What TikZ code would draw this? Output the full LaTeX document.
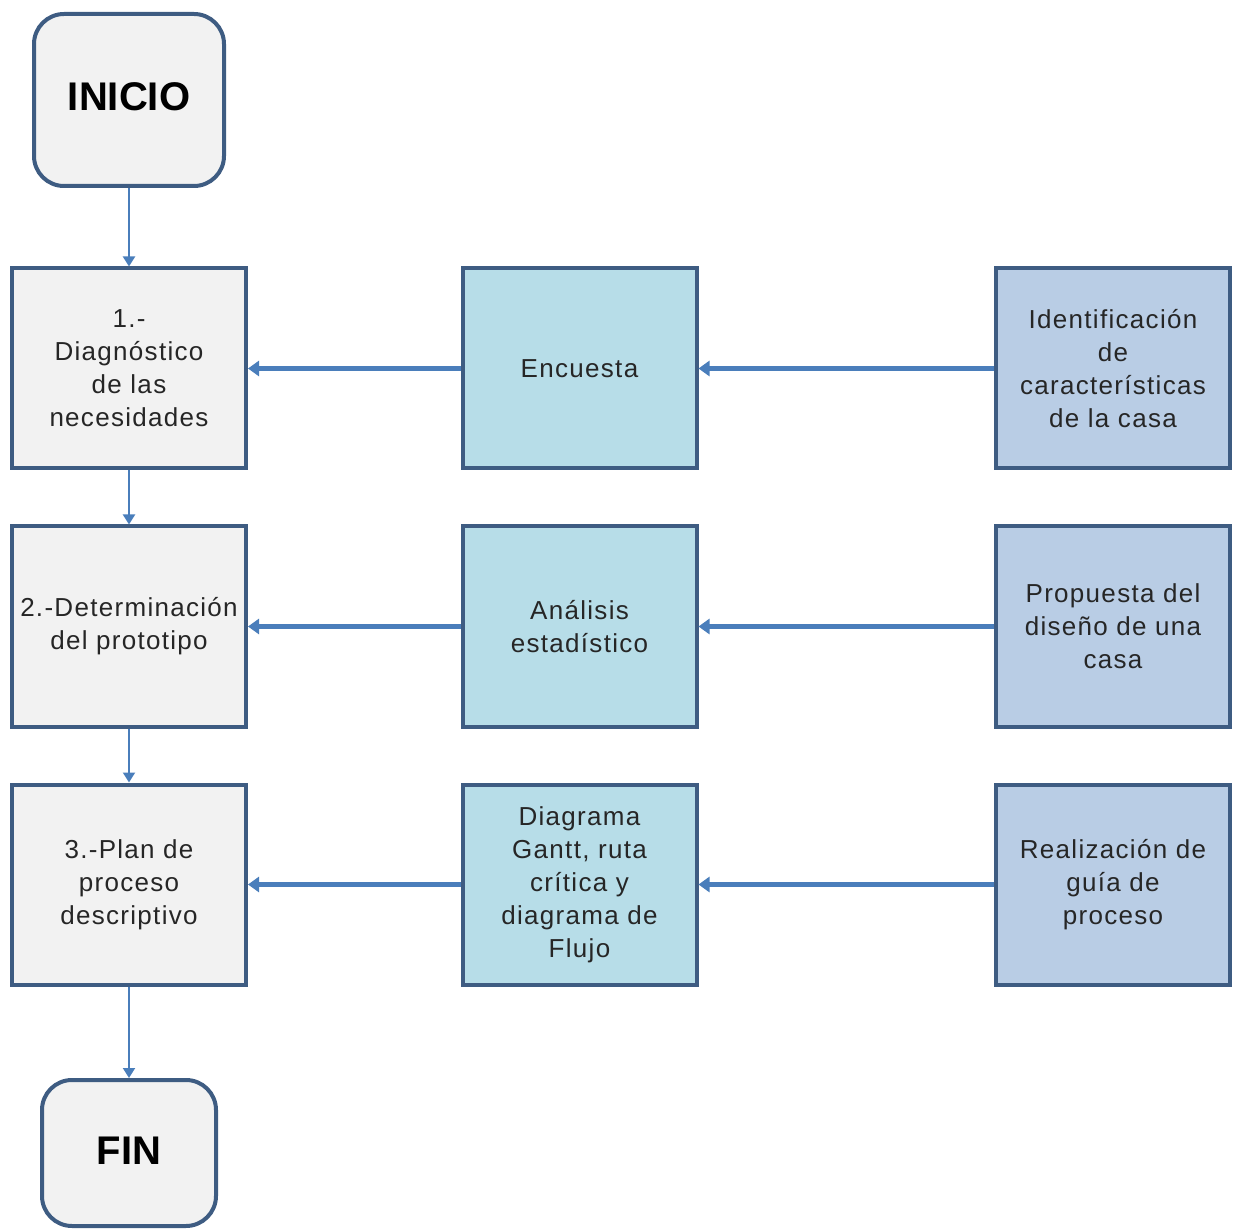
\documentclass[tikz,border=0pt]{standalone}
\usepackage{fontspec}
\setmainfont{Liberation Sans}[LetterSpace=5]
\newfontfamily\boldsans{Liberation Sans}[BoldFont={Liberation Sans Bold}]
\usetikzlibrary{arrows.meta}
\definecolor{bordc}{HTML}{3E5C82}
\definecolor{arrc}{HTML}{4A7EBB}
\definecolor{greyf}{HTML}{F2F2F2}
\definecolor{bluef}{HTML}{B7DDE8}
\definecolor{lavf}{HTML}{B9CDE5}
\tikzset{
  basebox/.style={draw=bordc, line width=2pt, rectangle, inner sep=0pt,
    minimum width=117pt, minimum height=100pt, align=center,
    font=\fontsize{13pt}{16.5pt}\selectfont, text=black!85},
  leftbox/.style={basebox, fill=greyf},
  midbox/.style={basebox, fill=bluef},
  rightbox/.style={basebox, fill=lavf},
  termbox/.style={draw=bordc, line width=2pt, rounded corners=15pt, fill=greyf,
    inner sep=0pt, font=\boldsans\bfseries\fontsize{20pt}{24pt}\selectfont},
  vline/.style={draw=arrc, line width=1pt, -{Triangle[width=6pt,length=5pt]}},
  hline/.style={draw=arrc, line width=2.2pt, -{Triangle[width=7.5pt,length=5.5pt]}}
}
\begin{document}
\begin{tikzpicture}[x=0.5pt,y=-0.5pt]
\useasboundingbox (0,0) rectangle (1239,1230);
\node[termbox, minimum width=95pt, minimum height=86pt] (ini) at (129,100) {\raisebox{3pt}{INICIO}};
\node[leftbox] (l1) at (129,368.5) {1.-\\Diagnóstico\\de las\\necesidades};
\node[leftbox] (l2) at (129,626.5) {2.-Determinación\\del prototipo};
\node[leftbox] (l3) at (129,884.5) {3.-Plan de\\proceso\\descriptivo};
\node[midbox] (m1) at (579.5,368.5) {\raisebox{-3pt}{Encuesta}};
\node[midbox] (m2) at (579.5,626.5) {Análisis\\estadístico};
\node[midbox] (m3) at (579.5,884.5) {Diagrama\\Gantt, ruta\\crítica y\\diagrama de\\Flujo};
\node[rightbox] (r1) at (1113,368.5) {Identificación\\de\\características\\de la casa};
\node[rightbox] (r2) at (1113,626.5) {Propuesta del\\diseño de una\\casa};
\node[rightbox] (r3) at (1113,884.5) {Realización de\\guía de\\proceso};
\node[termbox, minimum width=87pt, minimum height=73pt] (fin) at (129,1153) {\raisebox{2pt}{FIN}};
\draw[vline] (ini.south) -- (l1.north);
\draw[vline] (l1.south) -- (l2.north);
\draw[vline] (l2.south) -- (l3.north);
\draw[vline] (l3.south) -- (fin.north);
\draw[hline] (m1.west) -- (l1.east);
\draw[hline] (m2.west) -- (l2.east);
\draw[hline] (m3.west) -- (l3.east);
\draw[hline] (r1.west) -- (m1.east);
\draw[hline] (r2.west) -- (m2.east);
\draw[hline] (r3.west) -- (m3.east);
\end{tikzpicture}
\end{document}
